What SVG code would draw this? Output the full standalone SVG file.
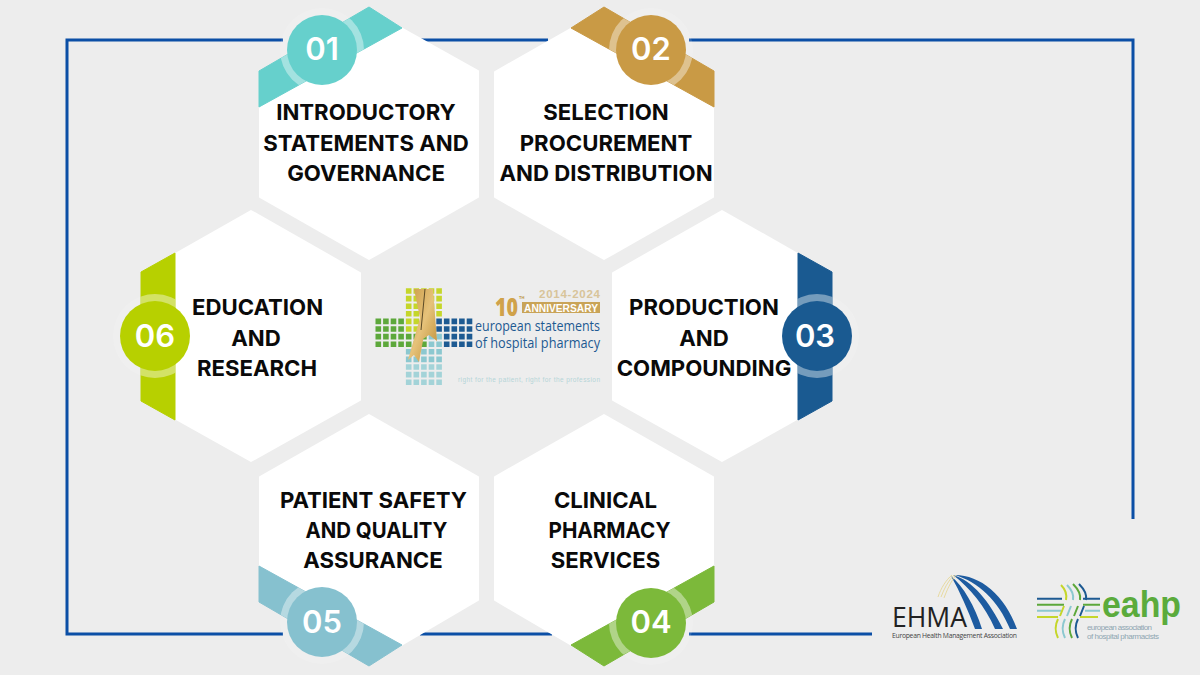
<svg xmlns="http://www.w3.org/2000/svg" width="1200" height="675" viewBox="0 0 1200 675">
<style>
.hex{fill:#fff;stroke:#fff;stroke-width:2;stroke-linejoin:round}
.rib{stroke-width:1;stroke-linejoin:round}
.halo{fill:#fff;fill-opacity:.14}
.ring{fill:#fff;fill-opacity:.3}
.num{font:600 31px Inter,"Liberation Sans",sans-serif;fill:#fff;text-anchor:middle}
.lab{font:700 22.2px Inter,"Liberation Sans",sans-serif;fill:#0a0a0a;text-anchor:middle}
.conn{fill:none;stroke:#0b4fa6;stroke-width:3}
.dot{fill:none;stroke-width:5.6;stroke-dasharray:5.6 2}
.sans{font-family:"Liberation Sans",Arial,sans-serif}
.open{font-family:"Open Sans","Liberation Sans",sans-serif}
.arc{fill:none;stroke-width:2}
.lgline{fill:none;stroke-width:2}
</style>
<defs>
<linearGradient id="gold" x1="0" y1="0" x2="1" y2="1"><stop offset="0" stop-color="#c99a45"/><stop offset=".5" stop-color="#e6c27a"/><stop offset="1" stop-color="#b98a30"/></linearGradient>
<clipPath id="c1"><polygon points="259,71 369,7 402,28 259,107"/></clipPath>
<clipPath id="c2"><polygon points="714,71 604,7 571,28 714,107"/></clipPath>
<clipPath id="c3"><polygon points="798,253 832,272 832,401 798,420"/></clipPath>
<clipPath id="c4"><polygon points="714,566 714,602 604,666 571,645"/></clipPath>
<clipPath id="c5"><polygon points="259,566 402,645 369,666 259,602"/></clipPath>
<clipPath id="c6"><polygon points="175,253 141,272 141,401 175,420"/></clipPath>
</defs>
<rect width="1200" height="675" fill="#ededed"/>
<g id="connectors">
<path class="conn" d="M283 40H67V634H283"/>
<path class="conn" d="M420 40H548"/>
<path class="conn" d="M689 40H1133V519"/>
<path class="conn" d="M420 634H552"/>
<path class="conn" d="M689 634H872"/>
</g>
<g id="node-01">
<polygon class="hex" points="369,10 478,71 478,197 369,259 260,197 260,72"/>
<polygon class="rib" fill="#66d0cc" stroke="#66d0cc" points="259,71 369,7 402,28 259,107"/>
<circle class="halo" cx="322" cy="50" r="42"/><circle class="ring" clip-path="url(#c1)" cx="322" cy="50" r="42"/><circle cx="322" cy="50" r="35" fill="#66d0cc"/>
<text class="num" x="322" y="60">01</text>
<text class="lab" x="366" y="120">INTRODUCTORY</text><text class="lab" x="366" y="151">STATEMENTS AND</text><text class="lab" x="366" y="181">GOVERNANCE</text>
</g>
<g id="node-02">
<polygon class="hex" points="604,10 713,71 713,197 604,259 495,197 495,72"/>
<polygon class="rib" fill="#c99a45" stroke="#c99a45" points="714,71 604,7 571,28 714,107"/>
<circle class="halo" cx="651" cy="50" r="42"/><circle class="ring" clip-path="url(#c2)" cx="651" cy="50" r="42"/><circle cx="651" cy="50" r="35" fill="#c99a45"/>
<text class="num" x="651" y="60">02</text>
<text class="lab" x="606" y="120">SELECTION</text><text class="lab" x="606" y="151">PROCUREMENT</text><text class="lab" x="606" y="181">AND DISTRIBUTION</text>
</g>
<g id="node-03">
<polygon class="hex" points="722,211 831,273 831,400 722,461 613,400 613,273"/>
<polygon class="rib" fill="#1a5a91" stroke="#1a5a91" points="798,253 832,272 832,401 798,420"/>
<circle class="halo" cx="817" cy="336" r="42"/><circle class="ring" clip-path="url(#c3)" cx="817" cy="336" r="42"/><circle cx="817" cy="336" r="35" fill="#1a5a91"/>
<text class="num" x="815" y="347">03</text>
<text class="lab" x="704" y="315">PRODUCTION</text><text class="lab" x="704" y="346">AND</text><text class="lab" x="704" y="376">COMPOUNDING</text>
</g>
<g id="node-04">
<polygon class="hex" points="604,415 713,477 713,600 604,664 495,600 495,477"/>
<polygon class="rib" fill="#7cb93a" stroke="#7cb93a" points="714,566 714,602 604,666 571,645"/>
<circle class="halo" cx="651" cy="623" r="42"/><circle class="ring" clip-path="url(#c4)" cx="651" cy="623" r="42"/><circle cx="651" cy="623" r="35" fill="#7cb93a"/>
<text class="num" x="651" y="633">04</text>
<text class="lab" x="605.500" y="508">CLINICAL</text><text class="lab" x="609.500" y="538" textLength="122" lengthAdjust="spacingAndGlyphs">PHARMACY</text><text class="lab" x="605.500" y="568">SERVICES</text>
</g>
<g id="node-05">
<polygon class="hex" points="369,415 478,477 478,600 369,664 260,600 260,477"/>
<polygon class="rib" fill="#86c1cf" stroke="#86c1cf" points="259,566 402,645 369,666 259,602"/>
<circle class="halo" cx="322" cy="622" r="42"/><circle class="ring" clip-path="url(#c5)" cx="322" cy="622" r="42"/><circle cx="322" cy="622" r="35" fill="#86c1cf"/>
<text class="num" x="322" y="633">05</text>
<text class="lab" x="373.500" y="508">PATIENT SAFETY</text><text class="lab" x="376.500" y="538" textLength="142" lengthAdjust="spacingAndGlyphs">AND QUALITY</text><text class="lab" x="373" y="568">ASSURANCE</text>
</g>
<g id="node-06">
<polygon class="hex" points="251,211 360,273 360,400 251,461 142,400 142,273"/>
<polygon class="rib" fill="#b7d000" stroke="#b7d000" points="175,253 141,272 141,401 175,420"/>
<circle class="halo" cx="155" cy="336" r="42"/><circle class="ring" clip-path="url(#c6)" cx="155" cy="336" r="42"/><circle cx="155" cy="336" r="35" fill="#b7d000"/>
<text class="num" x="155" y="347">06</text>
<text class="lab" x="257.500" y="315">EDUCATION</text><text class="lab" x="256" y="346">AND</text><text class="lab" x="257" y="376">RESEARCH</text>
</g>
<g id="logo-statements">
<path class="dot" stroke="#c5d62a" d="M405.9 291H443.9M405.9 298.6H443.9M405.9 306.2H443.9M405.9 313.8H443.9M405.9 321.4H421.1M405.9 329H421.1"/>
<path class="dot" stroke="#5da83b" d="M375.5 321.4H405.9M375.5 329H405.9M375.500 336.6H428.7M375.500 344.2H428.7"/>
<path class="dot" stroke="#1d5a92" d="M428.7 321.4H474.3M428.7 329H474.3M443.9 336.6H474.3M443.9 344.2H474.3"/>
<path class="dot" stroke="#8cc8d0" d="M428.7 336.6H443.9M428.7 344.2H443.9M405.9 351.8H443.9M405.9 359.4H443.9"/>
<path class="dot" stroke="#a3d3d8" d="M405.9 367H443.9M405.9 374.6H443.9M405.9 382.2H443.9"/>
<polygon fill="url(#gold)" points="414,289 433,289 437,341 429,335 423,339 425,330 419,362 414,355 408,360 420,318"/>
<path d="M425 289L421 330" stroke="#5b4a26" stroke-width="1" fill="none"/>
<text class="open" x="495" y="316" font-size="24" font-weight="800" fill="#d0a24a" textLength="23" lengthAdjust="spacingAndGlyphs">10</text>
<text class="sans" x="519" y="299" font-size="4" font-weight="700" fill="#b98f3c">TH</text>
<text class="sans" x="539" y="298" font-size="11.5" font-weight="700" fill="#d8c49a" textLength="61">2014-2024</text>
<rect x="522" y="302" width="78" height="11" fill="#c9a458"/>
<text class="sans" x="524" y="311.500" font-size="10" font-weight="700" fill="#fff" textLength="74" lengthAdjust="spacingAndGlyphs">ANNIVERSARY</text>
<text class="open" x="475" y="331" font-size="14.500" font-weight="500" fill="#1d5a92" textLength="125" lengthAdjust="spacingAndGlyphs">european statements</text>
<text class="open" x="475" y="347.500" font-size="14.500" font-weight="500" fill="#1d5a92" textLength="125" lengthAdjust="spacingAndGlyphs">of hospital pharmacy</text>
<text class="sans" x="458" y="382" font-size="6.5" fill="#b5d5d8" textLength="142">right for the patient, right for the profession</text>
</g>
<g id="logo-ehma">
<path d="M955 575C980 575 1005 595 1017 629H1010C998 600 978 582 955 575Z" fill="#1d5ba0"/>
<path d="M953 575C972 580 990 602 1003 629H995C985 606 970 588 953 575Z" fill="#1d5ba0"/>
<path d="M951 576C963 586 975 606 982 629H975C968 610 960 592 951 576Z" fill="#1d5ba0"/>
<path d="M938 597C941 588 946 580 952 575M941 597C944 589 948 581 954 575M944 598C947 590 950 583 956 575" fill="none" stroke="#e5d48b" stroke-width=".8"/>
<text class="open" x="892" y="627" font-size="27" font-weight="400" fill="#222" textLength="75" lengthAdjust="spacingAndGlyphs">EHMA</text>
<text class="open" x="892" y="637.500" font-size="6.800" font-weight="400" fill="#444" textLength="125">European Health Management Association</text>
</g>
<g id="logo-eahp">
<path class="lgline" stroke="#1d5a92" d="M1037 598.700H1062M1083 598.700H1100"/>
<path class="lgline" stroke="#5da83b" d="M1037 604.700H1064M1083 604.700H1100"/>
<path class="lgline" stroke="#8cc8d0" d="M1037 610.700H1061M1085 610.700H1100"/>
<path class="lgline" stroke="#c5d62a" d="M1037 617H1058M1080 617H1098"/>
<path class="arc" stroke="#c5d62a" d="M1061 585C1066 590 1067 595 1066 600M1064 606L1060 616M1058 619C1055 625 1055 632 1058 638"/>
<path class="arc" stroke="#8cc8d0" d="M1067 585C1072 590 1074 595 1073 600M1071 606L1067 616M1065 619C1062 625 1062 632 1065 638"/>
<path class="arc" stroke="#5da83b" d="M1073 584C1079 590 1081 595 1080 600M1078 606L1074 616M1072 619C1069 625 1069 632 1072 638"/>
<path class="arc" stroke="#1d5a92" d="M1079 584C1085 590 1087 595 1086 600M1084 606L1080 616M1078 619C1075 625 1075 632 1078 638"/>
<text class="sans" x="1102" y="617" font-size="36" font-weight="700" fill="#5bab3c" textLength="79" lengthAdjust="spacingAndGlyphs">eahp</text>
<text class="sans" x="1087" y="630" font-size="8" fill="#8fa6b2" textLength="65">european association</text>
<text class="sans" x="1087" y="638.500" font-size="8" fill="#8fa6b2" textLength="72">of hospital pharmacists</text>
</g>
</svg>
